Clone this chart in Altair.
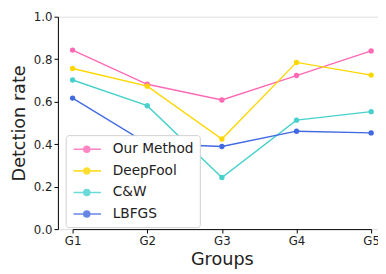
import altair as alt
import pandas as pd

groups = ["G1", "G2", "G3", "G4", "G5"]
series_names = ["Our Method", "DeepFool", "C&W", "LBFGS"]
our_method = [0.843, 0.682, 0.608, 0.723, 0.839]
deepfool = [0.756, 0.673, 0.424, 0.785, 0.725]
cw = [0.702, 0.581, 0.243, 0.513, 0.553]
lbfgs = [0.617, 0.403, 0.389, 0.461, 0.453]
colors = ["#ff69b4", "#ffd700", "#48d1cc", "#4169e1"]
y_ticks = [0.0, 0.2, 0.4, 0.6, 0.8, 1.0]

rows = []
for name, vals in zip(series_names, [our_method, deepfool, cw, lbfgs]):
    for g, v in zip(groups, vals):
        rows.append({"Group": g, "Method": name, "Rate": v})
df = pd.DataFrame(rows)

FONT = "DejaVu Sans"
# legend glyph: a line with a dot in its middle (unit = 7.5 px)
legend_path = ("M-0.87,0H0.53M1.33,0H2.87"
               "M0.53,0A0.4,0.4 0 1 1 1.33,0A0.4,0.4 0 1 1 0.53,0Z")

chart = alt.Chart(df).mark_line(
    strokeWidth=1.4,
    point=alt.OverlayMarkDef(filled=True, size=30, opacity=1),
).encode(
    x=alt.X("Group:N", sort=groups,
            scale=alt.Scale(type="point", range=[15, 320], padding=0),
            axis=alt.Axis(title="Groups", labelAngle=0, grid=False, domainColor="black",
                          tickColor="black", tickSize=4, labelPadding=3,
                          labelFontSize=12, titleFontSize=18, titlePadding=4,
                          titleFontWeight="normal", titleFont=FONT, labelFont=FONT,
                          labelColor="#222", titleColor="#222")),
    y=alt.Y("Rate:Q", scale=alt.Scale(domain=[0, 1], nice=False, zero=False),
            axis=alt.Axis(title="Detction rate", values=y_ticks, format=".1f", grid=False,
                          domainColor="black", tickColor="black", tickSize=4,
                          labelPadding=2, labelFontSize=12, titleFontSize=18,
                          titlePadding=5, titleFontWeight="normal", titleFont=FONT,
                          labelFont=FONT, labelColor="#222", titleColor="#222")),
    color=alt.Color("Method:N", sort=series_names,
                    scale=alt.Scale(domain=series_names, range=colors),
                    legend=alt.Legend(title=None, orient="none", legendX=8, legendY=121,
                                      symbolType=legend_path, symbolSize=225,
                                      symbolStrokeWidth=1.6, symbolOpacity=0.8,
                                      labelFontSize=14, labelFont=FONT, labelColor="#222",
                                      labelOffset=25, rowPadding=6,
                                      padding=6, fillColor="rgba(255,255,255,0.97)",
                                      strokeColor="#d0d0d0", cornerRadius=3)),
).properties(
    width=327, height=217,
    padding={"left": 51, "top": 6, "right": 0, "bottom": 45},
    autosize=alt.AutoSizeParams(type="none"),
).configure_view(
    stroke="black", strokeWidth=1,
).configure(background="white")

chart.save("out.html", embed_options={"renderer": "svg", "actions": False})
